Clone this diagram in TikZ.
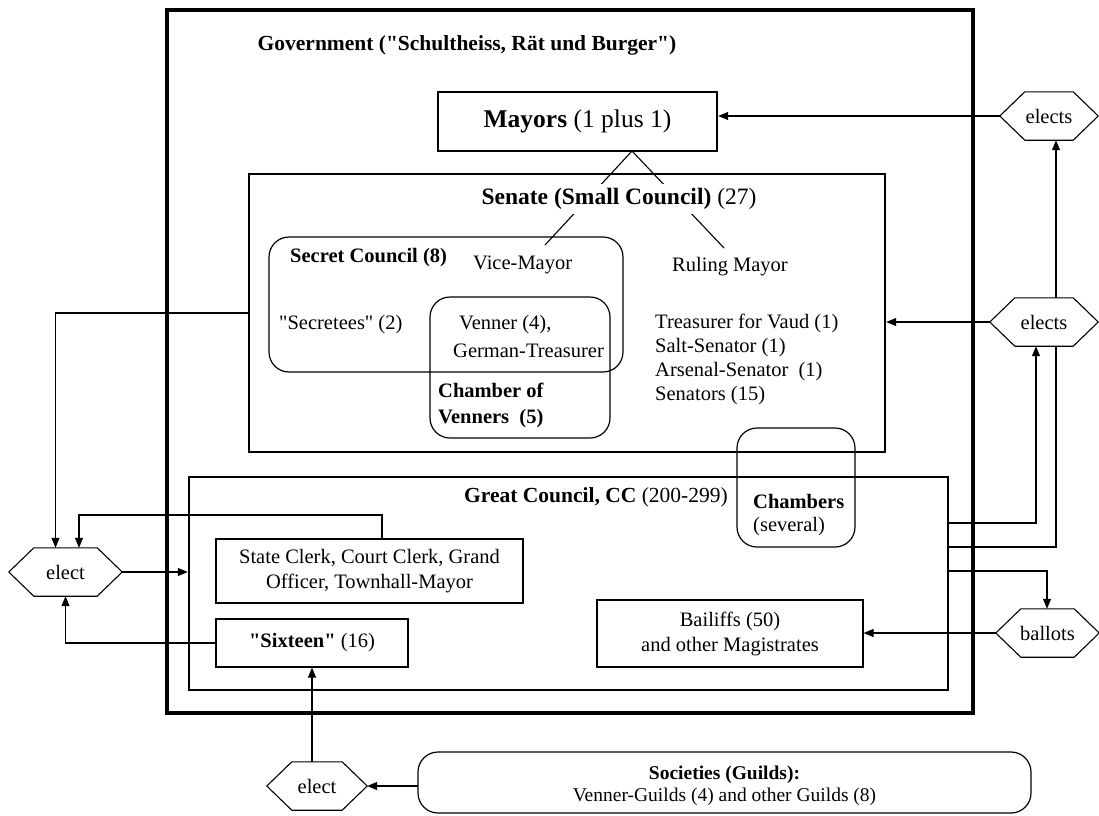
\documentclass[tikz,border=0pt]{standalone}
\usepackage{fontspec}
\setmainfont{Liberation Serif}
\usetikzlibrary{arrows.meta,calc}
\tikzset{
  txt/.style={font=\fontsize{20.5}{24}\selectfont, inner sep=0pt},
  govbox/.style={draw, line width=3.5pt, inner sep=0pt},
  bigbox/.style={draw, line width=2.4pt, inner sep=0pt},
  smallbox/.style={draw, line width=1.2pt, inner sep=0pt, font=\fontsize{20.5}{25}\selectfont, align=center},
  rbox/.style={draw, line width=1.2pt, rounded corners=20pt},
  conn/.style={line width=1.1pt},
  arr/.style={conn, -{Triangle[length=10pt,width=8pt]}},
}
\newcommand{\hexnode}[5]{%
  \node[txt, minimum width=#4, minimum height=48pt] (#1) at (#2,#3) {#5};
  \draw[conn] (#1.west) -- ([xshift=25pt]#1.north west) -- ([xshift=-25pt]#1.north east)
    -- (#1.east) -- ([xshift=-25pt]#1.south east) -- ([xshift=25pt]#1.south west) -- cycle;}
\newcommand{\qq}{\textquotedbl}
\begin{document}
\begin{tikzpicture}[x=1pt,y=-1pt]
\useasboundingbox (0,0) rectangle (1099,815);

% main boxes
\node[govbox, minimum width=806pt, minimum height=703pt] (gov) at (570,361.5) {};
\node[font=\fontsize{21.5}{26}\selectfont\bfseries, inner sep=0pt] (govt) at (467,45) {Government (\qq Schultheiss, Rät und Burger\qq)};
\node[bigbox, minimum width=279pt, minimum height=59pt, font=\fontsize{25.5}{29}\selectfont] (mayors) at (577.5,121.5) {\textbf{Mayors} (1 plus 1)};
\node[bigbox, minimum width=636pt, minimum height=278pt] (senate) at (567,313) {};
\node[bigbox, minimum width=759pt, minimum height=213pt] (gc) at (568.5,583.5) {};

% rounded boxes
\draw[rbox] (269,237) rectangle (623,372);
\draw[rbox] (430,297) rectangle (610,438);
\draw[rbox] (737,428) rectangle (855,547);
\draw[rbox] (418,752) rectangle (1031,813);

% mayors lines
\coordinate (apex) at (632,151);
\coordinate (vm) at (545,245);
\coordinate (rm) at (724,248);
\draw[conn] (vm) -- (apex) -- (rm);
\node[font=\fontsize{23.5}{28}\selectfont, fill=white, inner sep=4pt] (sent) at (619,199) {\textbf{Senate (Small Council)} (27)};

% senate contents
\node[txt, anchor=west] (sctxt) at (290,258) {\textbf{Secret Council (8)}};
\node[txt, anchor=west] (vmtxt) at (473,265) {Vice-Mayor};
\node[txt, anchor=west] (rmtxt) at (672,267) {Ruling Mayor};
\node[txt, anchor=west] (sectxt) at (279,325) {\qq Secretees\qq{} (2)};
\node[txt, anchor=west] (ventxt) at (459,325) {Venner (4),};
\node[txt, anchor=west] (gertxt) at (453,351) {German-Treasurer};
\node[txt, anchor=west] (cv1) at (438,390) {\textbf{Chamber of}};
\node[txt, anchor=west] (cv2) at (438,419) {\textbf{Venners\ \ (5)}};
\node[txt, anchor=north west, align=left] (trtxt) at (655,314) {Treasurer for Vaud (1)\\Salt-Senator (1)\\Arsenal-Senator\ \ (1)\\Senators (15)};

% great council contents
\node[font=\fontsize{21.5}{25}\selectfont, inner sep=0pt] (gct) at (596,497) {\textbf{Great Council, CC} (200-299)};
\node[txt, anchor=north west, align=left, font=\fontsize{20.5}{23}\selectfont] (chtxt) at (753,494) {\textbf{Chambers}\\(several)};
\node[smallbox, minimum width=307pt, minimum height=64pt] (sc) at (369.5,571) {State Clerk, Court Clerk, Grand\\Officer, Townhall-Mayor};
\node[smallbox, minimum width=192pt, minimum height=48pt] (s16) at (312,643) {\textbf{\qq Sixteen\qq} (16)};
\node[smallbox, minimum width=266pt, minimum height=67pt] (bail) at (730,633.5) {Bailiffs (50)\\and other Magistrates};

% societies
\node[font=\fontsize{19.5}{22}\selectfont, inner sep=0pt, align=center] (soc) at (724.5,786) {\textbf{Societies (Guilds):}\\Venner-Guilds (4) and other Guilds (8)};
\coordinate (socw) at (418,786);

% hexagons
\hexnode{eL}{65.5}{572}{113pt}{elect}
\hexnode{eB}{317}{786}{100pt}{elect}
\hexnode{e1}{1049}{116}{98pt}{elects}
\hexnode{e2}{1044}{322}{108pt}{elects}
\hexnode{bal}{1047.5}{633}{103pt}{ballots}

% connectors
\coordinate (r1) at (1036,523);
\coordinate (r2) at (1056,547);
\coordinate (r3) at (1047,571);
\coordinate (lt) at (79,515);
\draw[arr] (e1.west) -- (e1.west -| mayors.east);
\draw[arr] (e2.west) -- (e2.west -| senate.east);
\draw[arr] (gc.east |- r1) -- (r1) -- (r1 |- e2.south);
\draw[conn] (gc.east |- r2) -- (r2) -- (r2 |- e2.south);
\draw[arr] (r2 |- e2.north) -- (r2 |- e1.south);
\draw[arr] (gc.east |- r3) -- (r3) -- (r3 |- bal.north);
\draw[arr] (bal.west) -- (bal.west -| bail.east);
\draw[arr] (senate.west) -| ([xshift=-10pt]eL.north);
\draw[arr] ([xshift=12.5pt]sc.north) |- (lt) -- (lt |- eL.north);
\draw[arr] (eL.east) -- (eL.east -| gc.west);
\draw[arr] (s16.west) -| (eL.south);
\draw[arr] (s16.south |- eB.north) -- (s16.south);
\draw[arr] (socw) -- (eB.east);
\end{tikzpicture}
\end{document}
